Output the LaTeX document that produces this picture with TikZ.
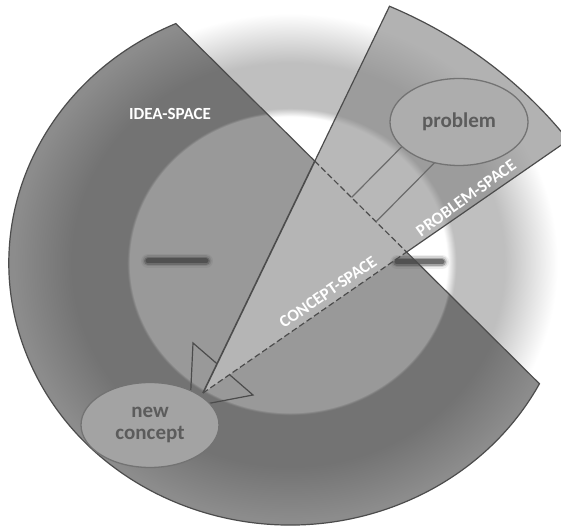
\documentclass[tikz,border=0pt]{standalone}
\usepackage{fontspec}
\setmainfont{Carlito}
\usetikzlibrary{calc,shapes.geometric}
\definecolor{ringgray}{gray}{0.75}
\definecolor{ideaC}{gray}{0.60}
\definecolor{ideaR}{gray}{0.45}
\definecolor{ideaO}{gray}{0.55}
\definecolor{probC}{gray}{0.72}
\definecolor{probR}{gray}{0.61}
\definecolor{probO}{gray}{0.70}
\definecolor{conceptC}{gray}{0.71}
\definecolor{lineC}{gray}{0.30}
\definecolor{connC}{gray}{0.42}
\definecolor{ellC}{gray}{0.45}
\definecolor{txtC}{gray}{0.36}
\definecolor{probEll}{gray}{0.68}
\definecolor{newEll}{gray}{0.64}
\definecolor{barC}{gray}{0.22}
\pgfdeclareradialshading{bgring}{\pgfpoint{0bp}{0bp}}{color(0bp)=(white); color(12.2bp)=(white); color(12.9bp)=(ringgray); color(16.7bp)=(ringgray); color(20.8bp)=(white); color(50bp)=(white)}
\pgfdeclareradialshading{ideash}{\pgfpoint{0bp}{0bp}}{color(0bp)=(ideaC); color(12.45bp)=(ideaC); color(12.65bp)=(ideaR); color(16.9bp)=(ideaR); color(21.5bp)=(ideaO); color(50bp)=(ideaO)}
\pgfdeclareradialshading{probsh}{\pgfpoint{0bp}{0bp}}{color(0bp)=(probC); color(12.3bp)=(probC); color(12.9bp)=(probR); color(16.7bp)=(probR); color(20.8bp)=(probO); color(50bp)=(probO)}
\begin{document}
\begin{tikzpicture}[x=1pt,y=1pt,
  outl/.style={draw=lineC, line width=1.2pt},
  dashline/.style={draw=lineC, line width=1.2pt, dash pattern=on 6pt off 3pt},
  conn/.style={draw=connC, line width=1.2pt},
  spacelabel/.style={text=white, font=\fontsize{17}{20}\selectfont\bfseries, inner sep=0pt},
  blob/.style={ellipse, draw=ellC, line width=1.3pt, inner sep=0pt, text=txtC,
    font=\fontsize{21}{22}\selectfont\bfseries, align=center},
  barstroke/.style={draw=barC, line cap=round}]
\useasboundingbox (0,0) rectangle (561,529);
\clip (0,0) rectangle (561,529);
\fill[white] (0,0) rectangle (561,529);
% geometry and shaded regions
\begin{scope}[shift={(290,266)}, xscale=1.073]
  \shade[shading=bgring] (0,0) circle[radius=300];
  \coordinate (P1) at (113.95:262);
  \coordinate (P2) at (-27.45:262);
  \coordinate (A) at (-81.1,-130);
  \path (A) ++(36.6:424) coordinate (ER);
  \path (A) ++(65.8:424) coordinate (EL);
  \begin{scope}
    \clip (P1) arc[start angle=113.95, end angle=332.55, radius=262] -- cycle;
    \shade[shading=ideash] (0,0) circle[radius=300];
  \end{scope}
  \begin{scope}
    \clip (A) -- (ER) arc[start angle=36.6, end angle=65.8, radius=424] -- cycle;
    \shade[shading=probsh] (0,0) circle[radius=300];
  \end{scope}
\end{scope}
\coordinate (Q1) at (intersection of A--EL and P1--P2);
\coordinate (Q2) at (intersection of A--ER and P1--P2);
\fill[conceptC] (A) -- (Q1) -- (Q2) -- cycle;
% blurred bars
\coordinate (barLa) at (148,268);
\coordinate (barLb) at (206,268);
\coordinate (barRa) at (397,267);
\coordinate (barRb) at (442,267);
\foreach \w/\o in {14/0.08, 11/0.15, 8/0.3, 5/0.5}{
  \draw[barstroke, line width=\w pt, opacity=\o] (barLa) -- (barLb);
  \draw[barstroke, line width=\w pt, opacity=\o] (barRa) -- (barRb);
}
% outlines
\begin{scope}[shift={(290,266)}, xscale=1.073]
  \draw[outl] (Q1) -- (P1) arc[start angle=113.95, end angle=332.55, radius=262] -- (Q2);
  \draw[outl] (Q2) -- (ER) arc[start angle=36.6, end angle=65.8, radius=424] -- (Q1);
\end{scope}
\draw[dashline] (Q1) -- (Q2);
\draw[draw=lineC, line width=1.6pt] (A) -- (Q1);
\draw[dashline] (A) -- (Q2);
% arrow head
\coordinate (B1) at (193,186);
\coordinate (B2) at (253,134);
\coordinate (T) at (190,122);
\coordinate (N1) at (intersection of A--Q1 and B1--B2);
\coordinate (N2) at (intersection of A--Q2 and B1--B2);
\draw[outl, line join=miter] (N1) -- (B1) -- (T) -- (B2) -- (N2);
% connectors from problem
\coordinate (L1) at ($(Q1)!0.40!(Q2)$);
\coordinate (L2) at ($(Q1)!0.667!(Q2)$);
\coordinate (U1) at ($(L1)!72pt!90:(Q2)$);
\coordinate (U2) at ($(L2)!85pt!90:(Q2)$);
\draw[conn] (L1) -- (U1);
\draw[conn] (L2) -- (U2);
% ellipses
\node[blob, fill=probEll, minimum width=138pt, minimum height=87pt] (problem) at (459,407) {problem};
\node[blob, fill=newEll, minimum width=138pt, minimum height=85pt] (newc) at (150,104) {new\\concept};
% labels
\node[spacelabel] (idealbl) at (170,415) {IDEA-SPACE};
\node[spacelabel, rotate=35.7] (problbl) at (466,331) {PROBLEM-SPACE};
\node[spacelabel, rotate=34.4] (conclbl) at (328,237) {CONCEPT-SPACE};
\end{tikzpicture}
\end{document}
